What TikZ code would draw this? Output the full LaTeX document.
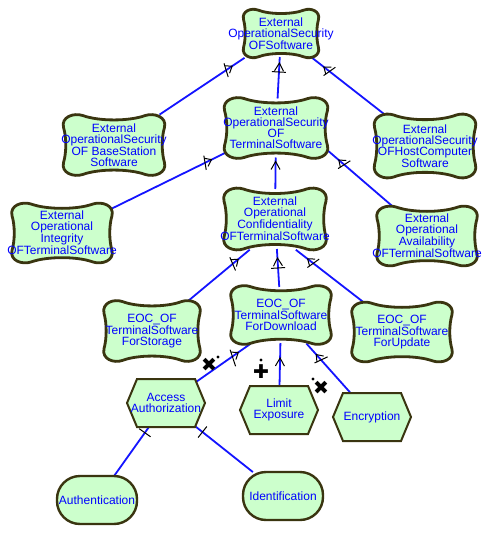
\documentclass[tikz,border=0pt]{standalone}
\usepackage{fontspec}
\setmainfont{Liberation Sans}
\newfontfamily\symfont{DejaVu Sans}
\usetikzlibrary{arrows.meta,decorations.markings}
\pgfdeclarelayer{background}
\pgfsetlayers{background,main}
\definecolor{sgfill}{HTML}{CCFFCC}
\definecolor{sgborder}{HTML}{3A3510}
\definecolor{txtblue}{HTML}{0000FF}
\definecolor{edgeblue}{HTML}{1414FF}
\tikzset{
  geo/.style={draw=none, inner sep=0pt, outer sep=0pt, rectangle},
  sgtext/.style={text=txtblue, align=center, font=\fontsize{12}{11}\selectfont, inner sep=0pt},
  hxtext/.style={text=txtblue, align=center, font=\fontsize{12}{10.5}\selectfont, inner sep=0pt},
  cloudline/.style={draw=sgborder, fill=sgfill, line width=2.8pt},
  hexline/.style={draw=sgborder, fill=sgfill, line width=2pt, line join=miter},
  taskbox/.style={draw=sgborder, fill=sgfill, line width=2.4pt, rounded corners=23pt,
    minimum width=80pt, minimum height=48pt, text=txtblue, inner sep=0pt,
    font=\fontsize{12}{11}\selectfont},
  edge/.style={draw=edgeblue, line width=1.8pt, shorten <=-2pt, shorten >=-2pt},
  mkarrow/.style={black, line width=1pt},
  sidemk/.style={postaction={decorate, decoration={markings,
    mark=at position -20pt with {\draw[black,line width=1pt] (-1.5pt,-5pt) -- (1.5pt,5pt);},
    mark=at position -12pt with {\arrow[mkarrow]{Straight Barb[length=6pt,width=9pt]}}}}},
  upmk/.style={postaction={decorate, decoration={markings,
    mark=at position #1 with {\arrow[mkarrow]{Straight Barb[length=8pt,width=9pt]}}}}},
  barmk/.style={postaction={decorate, decoration={markings,
    mark=at position #1 with {\draw[black,line width=1pt] (0,-5pt) -- (0,5pt);}}}},
  contrib/.style={font=\symfont\fontsize{19}{19}\selectfont, text=black, inner sep=0pt},
  contribdot/.style={fill=black},
}
% softgoal cloud: name, x, y, scale-x, scale-y, box half width, box half height, text
\newcommand\sgoal[8]{%
  \path[cloudline, shift={(#2,#3)}, xscale=#4, yscale=#5]
    (-0.62,-1) .. controls (-0.3,-0.8) and (0.3,-0.8) .. (0.62,-1)
    .. controls (0.8,-1.1) and (1.05,-0.95) .. (1,-0.6)
    .. controls (0.94,-0.25) and (0.94,0.25) .. (1,0.6)
    .. controls (1.05,0.95) and (0.8,1.1) .. (0.62,1)
    .. controls (0.3,0.8) and (-0.3,0.8) .. (-0.62,1)
    .. controls (-0.8,1.1) and (-1.05,0.95) .. (-1,0.6)
    .. controls (-0.94,0.25) and (-0.94,-0.25) .. (-1,-0.6)
    .. controls (-1.05,-0.95) and (-0.8,-1.1) .. (-0.62,-1) -- cycle;
  \node[geo, minimum width={2*#6pt}, minimum height={2*#7pt}] (#1) at (#2,#3) {};
  \node[sgtext] (#1-t) at (#2,#3) {#8};
}
% hexagon: name, x, y, text
\newcommand\hexgoal[4]{%
  \path[hexline, shift={(#2,#3)}] (-39,0) -- (-29,-24) -- (29,-24) -- (39,0) -- (29,24) -- (-29,24) -- cycle;
  \node[geo, minimum width=78pt, minimum height=48pt] (#1) at (#2,#3) {};
  \node[hxtext] (#1-t) at (#2,#3) {#4};
}
\begin{document}
\begin{tikzpicture}[x=1pt, y=-1pt]
\useasboundingbox (0,0) rectangle (501,540);

\sgoal{top}{281}{33.5}{37.5}{23.5}{39}{25.5}{External\\OperationalSecurity\\OFSoftware}
\sgoal{base}{114}{145}{50.5}{29.5}{52}{31.5}{External\\OperationalSecurity\\OF BaseStation\\Software}
\sgoal{term}{276}{128}{51.5}{29.5}{53}{31.5}{External\\OperationalSecurity\\OF\\TerminalSoftware}
\sgoal{host}{425}{146}{50.5}{31}{52}{33}{External\\OperationalSecurity\\OFHostComputer\\Software}
\sgoal{integ}{62}{233}{50}{29}{51.5}{31}{External\\Operational\\Integrity\\OFTerminalSoftware}
\sgoal{conf}{275}{219}{51}{30}{52.5}{32}{External\\Operational\\Confidentiality\\OFTerminalSoftware}
\sgoal{avail}{427}{236}{50}{29}{51.5}{31}{External\\Operational\\Availability\\OFTerminalSoftware}
\sgoal{stor}{152}{331}{48}{29.5}{49.5}{31.5}{EOC\_OF\\TerminalSoftware\\ForStorage}
\sgoal{down}{281}{315}{50}{28.5}{51.5}{30}{EOC\_OF\\TerminalSoftware\\ForDownload}
\sgoal{upd}{402}{332}{50}{29}{51.5}{30.5}{EOC\_OF\\TerminalSoftware\\ForUpdate}

\hexgoal{acc}{166}{403}{Access\\Authorization}
\hexgoal{lim}{279}{410}{Limit\\Exposure}
\hexgoal{enc}{372}{417}{Encryption}

\node[taskbox] (auth) at (97,500) {Authentication};
\node[taskbox] (ident) at (283,496) {Identification};

\begin{pgfonlayer}{background}
\fill[white] (0,0) rectangle (501,540);
\draw[edge, sidemk] (base) -- (top);
\draw[edge, barmk=-13pt, upmk=-3pt] (term) -- (top);
\draw[edge, sidemk] (host) -- (top);
\draw[edge, sidemk] (integ) -- (term);
\draw[edge, upmk=-1pt] (conf) -- (term);
\draw[edge, sidemk] (avail) -- (term.-24);
\draw[edge, sidemk] (stor) -- (conf.-130);
\draw[edge, barmk=-17pt, upmk=-6pt] (down) -- (conf);
\draw[edge, sidemk] (upd) -- (conf.-55);
\draw[edge, sidemk, shorten <=-5pt] (acc) -- (down.-137);
\draw[edge, upmk=-12pt] (lim) -- (down);
\draw[edge, sidemk] (enc) -- (down);
\draw[edge, barmk=-7pt] (auth) -- (acc);
\draw[edge, barmk=-8pt] (ident) -- (acc);
\end{pgfonlayer}

\node[contrib] (cx1) at (209,365) {✖};
\fill[contribdot] (218,357) circle (1.6pt);
\node[contrib] (cp) at (261,372) {✚};
\fill[contribdot] (261,360) circle (1.6pt);
\node[contrib] (cx2) at (321,388) {✖};
\fill[contribdot] (313,379) circle (1.6pt);
\end{tikzpicture}
\end{document}
